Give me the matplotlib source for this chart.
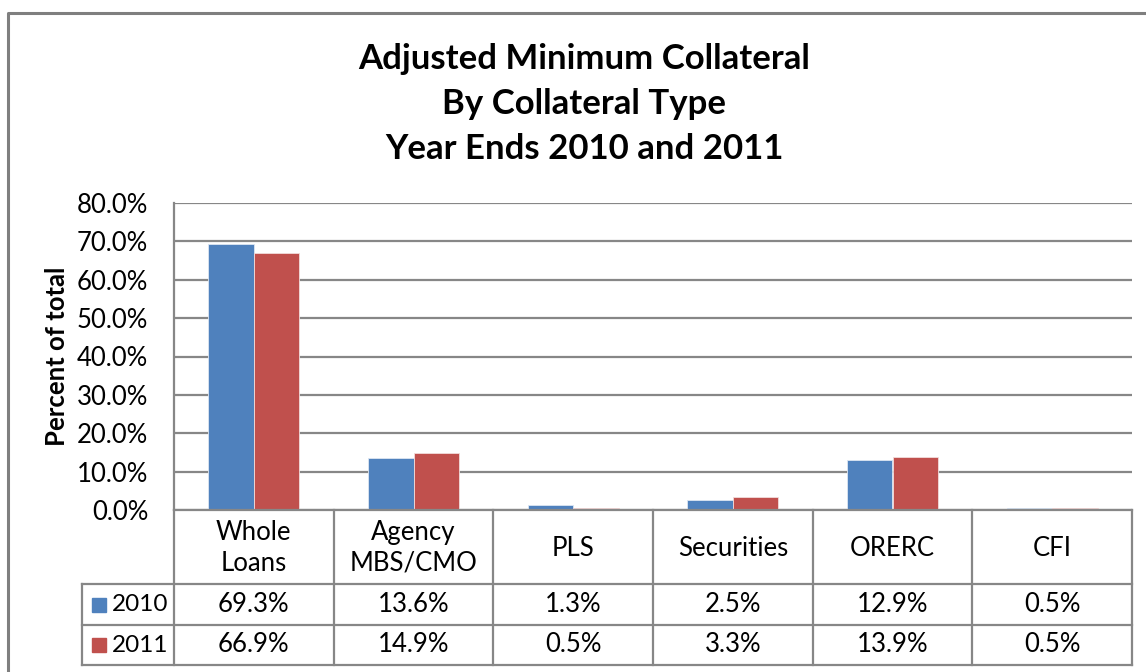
import matplotlib
matplotlib.use("Agg")
import matplotlib.pyplot as plt
import numpy as np
from matplotlib.lines import Line2D
from matplotlib.patches import Rectangle

# ---- data ----
categories = ["Whole\nLoans", "Agency\nMBS/CMO", "PLS", "Securities", "ORERC", "CFI"]
series_names = ["2010", "2011"]
values_2010 = [69.3, 13.6, 1.3, 2.5, 12.9, 0.5]
values_2011 = [66.9, 14.9, 0.5, 3.3, 13.9, 0.5]
yticks = [0, 10, 20, 30, 40, 50, 60, 70, 80]
title_lines = ["Adjusted Minimum Collateral", "By Collateral Type", "Year Ends 2010 and 2011"]
ylabel = "Percent of total"

# ---- style ----
FONT = "Lato"
plt.rcParams["font.family"] = [FONT, "DejaVu Sans"]
BLUE = "#4F81BD"
RED = "#C0504D"
GRID = "#878787"
W, H = 1146, 672
DPI = 100
FS = 18.5

fig = plt.figure(figsize=(W / DPI, H / DPI), dpi=DPI)
fig.patch.set_facecolor("white")

# plot area in pixels
pl, pr, pt, pb = 174, 1132, 203, 510
ax = fig.add_axes([pl / W, 1 - pb / H, (pr - pl) / W, (pb - pt) / H])
n = len(categories)
x = np.arange(n)
bw = 0.285
ax.bar(x - bw / 2, values_2010, bw, color=BLUE, edgecolor="#DCE6F2", linewidth=0.6, zorder=3)
ax.bar(x + bw / 2, values_2011, bw, color=RED, edgecolor="#F2DCDB", linewidth=0.6, zorder=3)
ax.set_xlim(-0.5, n - 0.5)
ax.set_ylim(yticks[0], yticks[-1])
ax.set_yticks(yticks)
ax.set_yticklabels([f"{v:.1f}%" for v in yticks], fontsize=FS)
ax.tick_params(axis="y", length=0, pad=18.5)
ax.set_xticks([])
ax.yaxis.grid(True, color=GRID, linewidth=1.6, zorder=0)
ax.set_axisbelow(True)
for s in ["top", "right", "bottom"]:
    ax.spines[s].set_visible(False)
ax.spines["left"].set_color(GRID)
ax.spines["left"].set_linewidth(1.6)
ax.set_ylabel(ylabel, fontsize=18.5, fontweight="bold")
ax.yaxis.set_label_coords(-(pl - 69) / (pr - pl), 0.5)

# overlay for title, table, border (pixel coordinates)
ov = fig.add_axes([0, 0, 1, 1], zorder=5)
ov.set_xlim(0, W)
ov.set_ylim(H, 0)
ov.axis("off")
ov.patch.set_alpha(0)

# outer chart border
ov.add_line(Line2D([8, 8, W + 5], [H + 5, 13, 13], color="#7F7F7F", linewidth=2.2))

# title
for i, t in enumerate(title_lines):
    ov.text(584, 59 + i * 45, t, ha="center", va="center", fontsize=25, fontweight="bold")

# table
col_edges = np.linspace(pl, pr, n + 1)
hdr_top, hdr_bot, r1_bot, r2_bot = pb, 584, 625, 665
leg_left = 82
lw = 1.6
for xe in col_edges:
    ov.add_line(Line2D([xe, xe], [hdr_top, r2_bot], color=GRID, linewidth=lw))
ov.add_line(Line2D([pl, pr], [hdr_top, hdr_top], color=GRID, linewidth=lw))
for yy in [hdr_bot, r1_bot, r2_bot]:
    ov.add_line(Line2D([leg_left, pr], [yy, yy], color=GRID, linewidth=lw))
ov.add_line(Line2D([leg_left, leg_left], [hdr_bot, r2_bot], color=GRID, linewidth=lw))

centers = (col_edges[:-1] + col_edges[1:]) / 2
for c, cat in zip(centers, categories):
    ov.text(c, (hdr_top + hdr_bot) / 2 + 1, cat, ha="center", va="center",
            fontsize=FS, linespacing=1.3)

rows = [(values_2010, BLUE, series_names[0], (hdr_bot + r1_bot) / 2),
        (values_2011, RED, series_names[1], (r1_bot + r2_bot) / 2)]
for vals, col, name, yc in rows:
    ov.add_patch(Rectangle((92, yc - 7), 14, 14, color=col))
    ov.text(112, yc, name, ha="left", va="center", fontsize=17.5)
    for c, v in zip(centers, vals):
        ov.text(c, yc, f"{v:.1f}%", ha="center", va="center", fontsize=FS)

fig.savefig("out.png", dpi=DPI, facecolor="white")
